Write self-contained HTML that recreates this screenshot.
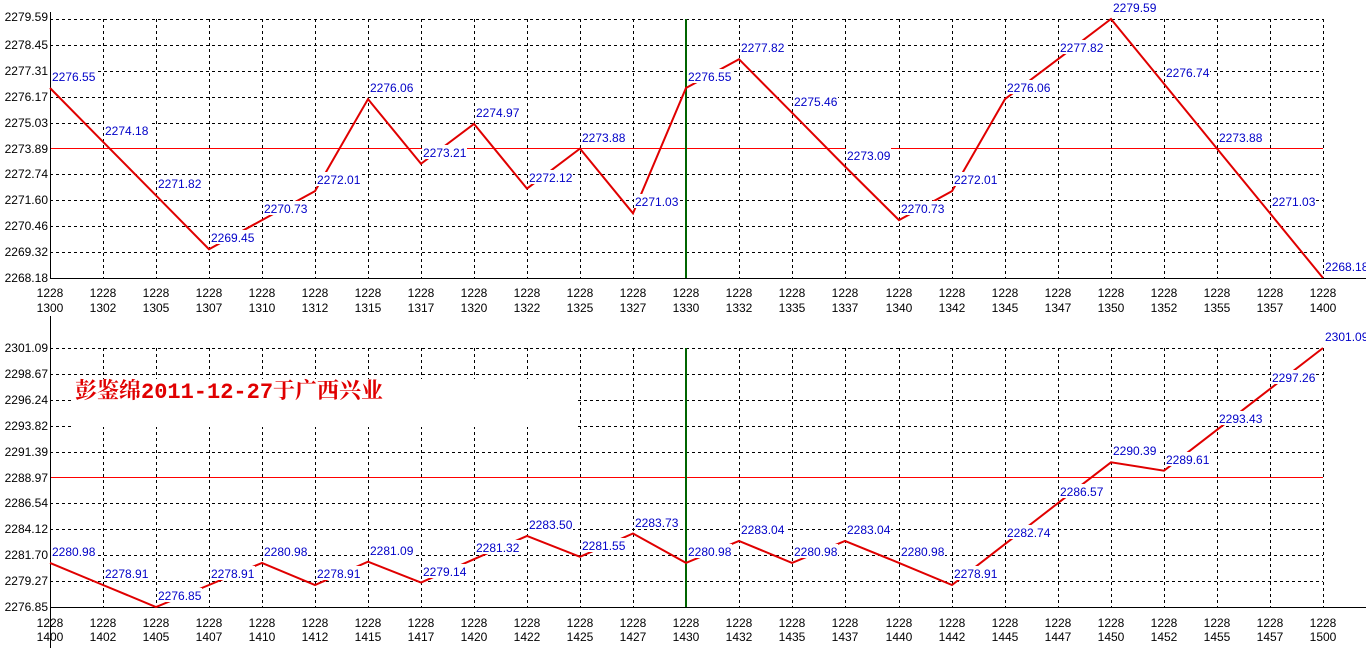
<!DOCTYPE html>
<html><head><meta charset="utf-8"><style>
html,body{margin:0;padding:0;background:#fff;width:1366px;height:658px;overflow:hidden}
svg{display:block}
text{font-family:"Liberation Sans",sans-serif;font-size:12px}
.y{text-anchor:end;fill:#000}
.x{text-anchor:middle;fill:#000}
.l{fill:#0000c8}
.g{stroke:#000;stroke-width:1;stroke-dasharray:3,3;fill:none}
</style></head><body>
<svg width="1366" height="658" viewBox="0 0 1366 658">
<!-- TOP grid -->
<g class="g">
<path d="M50 19.5H1323M50 45.5H1323M50 71.5H1323M50 97.5H1323M50 123.5H1323M50 174.5H1323M50 200.5H1323M50 226.5H1323M50 252.5H1323"/>
<path d="M103.5 19V278M156.5 19V278M209.5 19V278M262.5 19V278M315.5 19V278M368.5 19V278M421.5 19V278M474.5 19V278M527.5 19V278M580.5 19V278M633.5 19V278M739.5 19V278M792.5 19V278M845.5 19V278M899.5 19V278M952.5 19V278M1005.5 19V278M1058.5 19V278M1111.5 19V278M1164.5 19V278M1217.5 19V278M1270.5 19V278M1323.5 19V278"/>
</g>
<line x1="50" y1="148.5" x2="1323" y2="148.5" stroke="#f00" stroke-width="1"/>
<line x1="686" y1="19" x2="686" y2="278" stroke="#006400" stroke-width="2"/>
<path d="M50.5 12V279M50 278.5H1366" stroke="#000" fill="none"/>
<polyline fill="none" stroke="#e00000" stroke-width="2" points="50,88 103,141.8 156,195.4 209,249.2 262,220.1 315,191.1 368,99.1 421,163.8 474,123.9 527,188.6 580,148.6 633,213.3 686,88 739,59.2 792,112.7 845,166.5 899,220.1 952,191.1 1005,99.1 1058,59.2 1111,19 1164,83.7 1217,148.6 1270,213.3 1323,278"/>
<g fill="#fff">
<rect x="51" y="69" width="45" height="14"/><rect x="104" y="123" width="45" height="14"/><rect x="157" y="176" width="45" height="14"/><rect x="210" y="230" width="45" height="14"/><rect x="263" y="201" width="45" height="14"/><rect x="316" y="172" width="45" height="14"/><rect x="369" y="80" width="45" height="14"/><rect x="422" y="145" width="45" height="14"/><rect x="475" y="105" width="45" height="14"/><rect x="528" y="170" width="45" height="14"/><rect x="581" y="130" width="45" height="14"/><rect x="634" y="194" width="45" height="14"/><rect x="687" y="69" width="45" height="14"/><rect x="740" y="40" width="45" height="14"/><rect x="793" y="94" width="45" height="14"/><rect x="846" y="148" width="45" height="14"/><rect x="900" y="201" width="45" height="14"/><rect x="953" y="172" width="45" height="14"/><rect x="1006" y="80" width="45" height="14"/><rect x="1059" y="40" width="45" height="14"/><rect x="1112" y="0" width="45" height="14"/><rect x="1165" y="65" width="45" height="14"/><rect x="1218" y="130" width="45" height="14"/><rect x="1271" y="194" width="45" height="14"/><rect x="1324" y="259" width="42" height="14"/>
</g>
<g class="l">
<text x="52" y="81">2276.55</text><text x="105" y="135">2274.18</text><text x="158" y="188">2271.82</text><text x="211" y="242">2269.45</text><text x="264" y="213">2270.73</text><text x="317" y="184">2272.01</text><text x="370" y="92">2276.06</text><text x="423" y="157">2273.21</text><text x="476" y="117">2274.97</text><text x="529" y="182">2272.12</text><text x="582" y="142">2273.88</text><text x="635" y="206">2271.03</text><text x="688" y="81">2276.55</text><text x="741" y="52">2277.82</text><text x="794" y="106">2275.46</text><text x="847" y="160">2273.09</text><text x="901" y="213">2270.73</text><text x="954" y="184">2272.01</text><text x="1007" y="92">2276.06</text><text x="1060" y="52">2277.82</text><text x="1113" y="12">2279.59</text><text x="1166" y="77">2276.74</text><text x="1219" y="142">2273.88</text><text x="1272" y="206">2271.03</text><text x="1325" y="271">2268.18</text>
</g>
<g class="y">
<text x="48" y="21">2279.59</text><text x="48" y="49">2278.45</text><text x="48" y="75">2277.31</text><text x="48" y="101">2276.17</text><text x="48" y="127">2275.03</text><text x="48" y="153">2273.89</text><text x="48" y="178">2272.74</text><text x="48" y="204">2271.60</text><text x="48" y="230">2270.46</text><text x="48" y="256">2269.32</text><text x="48" y="282">2268.18</text>
</g>
<g class="x">
<text x="50" y="297">1228</text><text x="103" y="297">1228</text><text x="156" y="297">1228</text><text x="209" y="297">1228</text><text x="262" y="297">1228</text><text x="315" y="297">1228</text><text x="368" y="297">1228</text><text x="421" y="297">1228</text><text x="474" y="297">1228</text><text x="527" y="297">1228</text><text x="580" y="297">1228</text><text x="633" y="297">1228</text><text x="686" y="297">1228</text><text x="739" y="297">1228</text><text x="792" y="297">1228</text><text x="845" y="297">1228</text><text x="899" y="297">1228</text><text x="952" y="297">1228</text><text x="1005" y="297">1228</text><text x="1058" y="297">1228</text><text x="1111" y="297">1228</text><text x="1164" y="297">1228</text><text x="1217" y="297">1228</text><text x="1270" y="297">1228</text><text x="1323" y="297">1228</text>
<text x="50" y="312">1300</text><text x="103" y="312">1302</text><text x="156" y="312">1305</text><text x="209" y="312">1307</text><text x="262" y="312">1310</text><text x="315" y="312">1312</text><text x="368" y="312">1315</text><text x="421" y="312">1317</text><text x="474" y="312">1320</text><text x="527" y="312">1322</text><text x="580" y="312">1325</text><text x="633" y="312">1327</text><text x="686" y="312">1330</text><text x="739" y="312">1332</text><text x="792" y="312">1335</text><text x="845" y="312">1337</text><text x="899" y="312">1340</text><text x="952" y="312">1342</text><text x="1005" y="312">1345</text><text x="1058" y="312">1347</text><text x="1111" y="312">1350</text><text x="1164" y="312">1352</text><text x="1217" y="312">1355</text><text x="1270" y="312">1357</text><text x="1323" y="312">1400</text>
</g>

<!-- BOTTOM grid -->
<g class="g">
<path d="M50 348.5H1323M50 374.5H1323M50 400.5H1323M50 426.5H1323M50 452.5H1323M50 503.5H1323M50 529.5H1323M50 555.5H1323M50 581.5H1323"/>
<path d="M103.5 348V607M156.5 348V607M209.5 348V607M262.5 348V607M315.5 348V607M368.5 348V607M421.5 348V607M474.5 348V607M527.5 348V607M580.5 348V607M633.5 348V607M739.5 348V607M792.5 348V607M845.5 348V607M899.5 348V607M952.5 348V607M1005.5 348V607M1058.5 348V607M1111.5 348V607M1164.5 348V607M1217.5 348V607M1270.5 348V607M1323.5 348V607"/>
</g>
<rect x="72" y="379" width="505" height="48" fill="#fff"/>
<text x="75" y="398" style="font-family:'Liberation Mono','Noto Serif CJK SC',monospace;font-size:22px;font-weight:bold;fill:#e00000">彭鉴绵2011-12-27于广西兴业</text>
<line x1="50" y1="477.5" x2="1323" y2="477.5" stroke="#f00" stroke-width="1"/>
<line x1="686" y1="348" x2="686" y2="607" stroke="#006400" stroke-width="2"/>
<path d="M50.5 316V648M50 607.5H1366" stroke="#000" fill="none"/>
<polyline fill="none" stroke="#e00000" stroke-width="2" points="50,562.9 103,585 156,607 209,585 262,562.9 315,585 368,561.7 421,582.5 474,559.2 527,535.9 580,556.8 633,533.5 686,562.9 739,540.9 792,562.9 845,540.9 899,562.9 952,585 1005,544.1 1058,503.1 1111,462.3 1164,470.7 1217,429.8 1270,388.9 1323,348"/>
<g fill="#fff">
<rect x="51" y="544" width="45" height="14"/><rect x="104" y="566" width="45" height="14"/><rect x="157" y="588" width="45" height="14"/><rect x="210" y="566" width="45" height="14"/><rect x="263" y="544" width="45" height="14"/><rect x="316" y="566" width="45" height="14"/><rect x="369" y="543" width="45" height="14"/><rect x="422" y="564" width="45" height="14"/><rect x="475" y="540" width="45" height="14"/><rect x="528" y="517" width="45" height="14"/><rect x="581" y="538" width="45" height="14"/><rect x="634" y="515" width="45" height="14"/><rect x="687" y="544" width="45" height="14"/><rect x="740" y="522" width="45" height="14"/><rect x="793" y="544" width="45" height="14"/><rect x="846" y="522" width="45" height="14"/><rect x="900" y="544" width="45" height="14"/><rect x="953" y="566" width="45" height="14"/><rect x="1006" y="525" width="45" height="14"/><rect x="1059" y="484" width="45" height="14"/><rect x="1112" y="443" width="45" height="14"/><rect x="1165" y="452" width="45" height="14"/><rect x="1218" y="411" width="45" height="14"/><rect x="1271" y="370" width="45" height="14"/><rect x="1324" y="329" width="42" height="14"/>
</g>
<g class="l">
<text x="52" y="556">2280.98</text><text x="105" y="578">2278.91</text><text x="158" y="600">2276.85</text><text x="211" y="578">2278.91</text><text x="264" y="556">2280.98</text><text x="317" y="578">2278.91</text><text x="370" y="555">2281.09</text><text x="423" y="576">2279.14</text><text x="476" y="552">2281.32</text><text x="529" y="529">2283.50</text><text x="582" y="550">2281.55</text><text x="635" y="527">2283.73</text><text x="688" y="556">2280.98</text><text x="741" y="534">2283.04</text><text x="794" y="556">2280.98</text><text x="847" y="534">2283.04</text><text x="901" y="556">2280.98</text><text x="954" y="578">2278.91</text><text x="1007" y="537">2282.74</text><text x="1060" y="496">2286.57</text><text x="1113" y="455">2290.39</text><text x="1166" y="464">2289.61</text><text x="1219" y="423">2293.43</text><text x="1272" y="382">2297.26</text><text x="1325" y="341">2301.09</text>
</g>
<g class="y">
<text x="48" y="352">2301.09</text><text x="48" y="378">2298.67</text><text x="48" y="404">2296.24</text><text x="48" y="430">2293.82</text><text x="48" y="456">2291.39</text><text x="48" y="482">2288.97</text><text x="48" y="507">2286.54</text><text x="48" y="533">2284.12</text><text x="48" y="559">2281.70</text><text x="48" y="585">2279.27</text><text x="48" y="611">2276.85</text>
</g>
<g class="x">
<text x="50" y="627">1228</text><text x="103" y="627">1228</text><text x="156" y="627">1228</text><text x="209" y="627">1228</text><text x="262" y="627">1228</text><text x="315" y="627">1228</text><text x="368" y="627">1228</text><text x="421" y="627">1228</text><text x="474" y="627">1228</text><text x="527" y="627">1228</text><text x="580" y="627">1228</text><text x="633" y="627">1228</text><text x="686" y="627">1228</text><text x="739" y="627">1228</text><text x="792" y="627">1228</text><text x="845" y="627">1228</text><text x="899" y="627">1228</text><text x="952" y="627">1228</text><text x="1005" y="627">1228</text><text x="1058" y="627">1228</text><text x="1111" y="627">1228</text><text x="1164" y="627">1228</text><text x="1217" y="627">1228</text><text x="1270" y="627">1228</text><text x="1323" y="627">1228</text>
<text x="50" y="641">1400</text><text x="103" y="641">1402</text><text x="156" y="641">1405</text><text x="209" y="641">1407</text><text x="262" y="641">1410</text><text x="315" y="641">1412</text><text x="368" y="641">1415</text><text x="421" y="641">1417</text><text x="474" y="641">1420</text><text x="527" y="641">1422</text><text x="580" y="641">1425</text><text x="633" y="641">1427</text><text x="686" y="641">1430</text><text x="739" y="641">1432</text><text x="792" y="641">1435</text><text x="845" y="641">1437</text><text x="899" y="641">1440</text><text x="952" y="641">1442</text><text x="1005" y="641">1445</text><text x="1058" y="641">1447</text><text x="1111" y="641">1450</text><text x="1164" y="641">1452</text><text x="1217" y="641">1455</text><text x="1270" y="641">1457</text><text x="1323" y="641">1500</text>
</g>
</svg>
</body></html>
